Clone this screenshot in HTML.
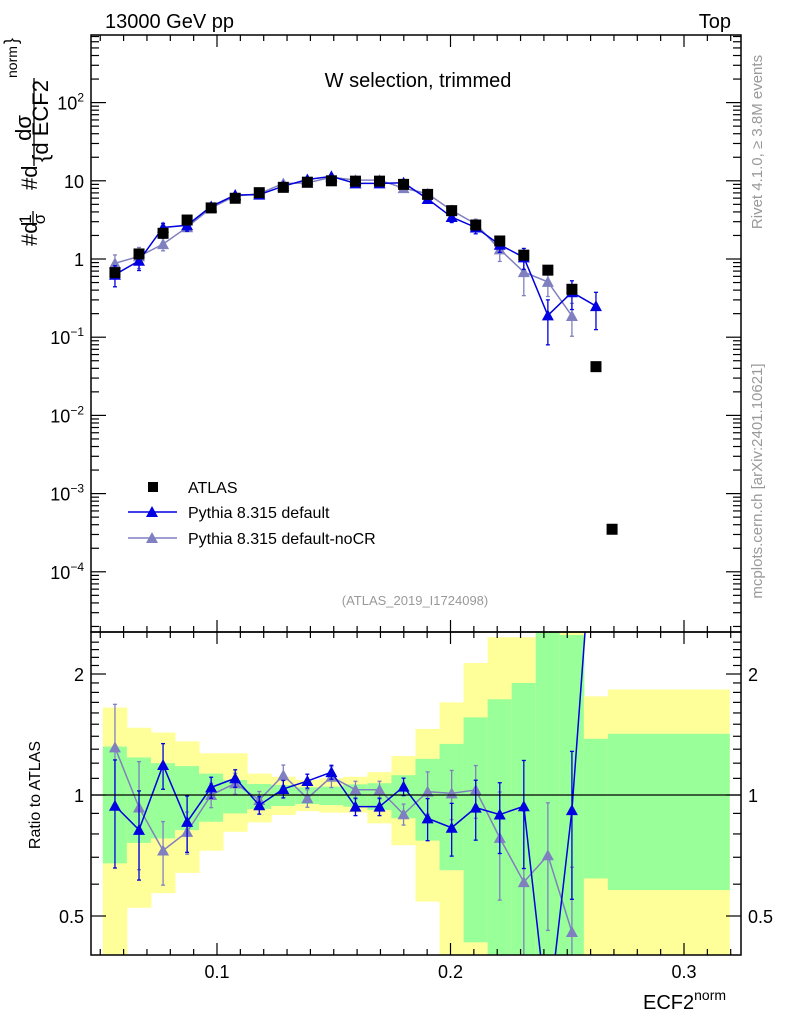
<!DOCTYPE html>
<html><head><meta charset="utf-8"><style>
html,body{margin:0;padding:0;background:#fff;width:786px;height:1024px;overflow:hidden;}
svg{display:block;font-family:"Liberation Sans",sans-serif;}
</style></head><body>
<svg id="chart" width="786" height="1024" viewBox="0 0 786 1024" xmlns="http://www.w3.org/2000/svg">
<defs>
<clipPath id="clipMain"><rect x="91" y="35" width="650" height="597"/></clipPath>
<clipPath id="clipRatio"><rect x="91" y="632" width="650" height="323"/></clipPath>
</defs>
<g id="bands" clip-path="url(#clipRatio)"></g>
<g id="mainMarks" clip-path="url(#clipMain)"></g>
<g id="ratioMarks" clip-path="url(#clipRatio)"></g>
<rect x="91" y="35" width="650" height="597" fill="none" stroke="#000" stroke-width="1.5"/>
<rect x="91" y="632" width="650" height="323" fill="none" stroke="#000" stroke-width="1.5"/>
<line x1="91" y1="795" x2="741" y2="795" stroke="#000" stroke-width="1.2"/>
<g id="ticks"></g>
<text x="105" y="28" font-size="20">13000 GeV pp</text>
<text x="731" y="28" font-size="20" text-anchor="end">Top</text>
<text x="418" y="87" font-size="20" text-anchor="middle">W selection, trimmed</text>
<text x="415" y="605" font-size="13" fill="#999" text-anchor="middle">(ATLAS_2019_I1724098)</text>
<g font-size="22">
<text transform="translate(37,246) rotate(-90)">#d</text>
<text transform="translate(31,219) rotate(-90)" font-size="17" text-anchor="middle">1</text>
<line x1="33" y1="211" x2="33" y2="226" stroke="#000" stroke-width="1.3"/>
<text transform="translate(45,219) rotate(-90)" font-size="17" text-anchor="middle">σ</text>
<text transform="translate(37,190) rotate(-90)">#d</text>
<text transform="translate(31,128) rotate(-90)" font-size="22" text-anchor="middle">dσ</text>
<line x1="34" y1="78" x2="34" y2="166" stroke="#000" stroke-width="1.3"/>
<text transform="translate(48,162) rotate(-90)">{d ECF2</text>
<text transform="translate(17,78) rotate(-90)" font-size="14">norm</text>
<text transform="translate(17,44) rotate(-90)" font-size="18">}</text>
</g>
<text transform="translate(40,795) rotate(-90)" font-size="16" text-anchor="middle">Ratio to ATLAS</text>
<text x="643" y="1009" font-size="20">ECF2<tspan font-size="14" dy="-9">norm</tspan></text>
<text transform="translate(762,142) rotate(-90)" font-size="15" fill="#999" text-anchor="middle">Rivet 4.1.0, ≥ 3.8M events</text>
<text transform="translate(762,481) rotate(-90)" font-size="15" fill="#999" text-anchor="middle">mcplots.cern.ch [arXiv:2401.10621]</text>
<g font-size="16">
<rect x="148" y="482" width="10" height="10" fill="#000"/>
<text x="188" y="493">ATLAS</text>
<line x1="128" y1="512" x2="177" y2="512" stroke="#0000e0" stroke-width="1.5"/>
<polygon points="146,517 158,517 152,506" fill="#0000e0"/>
<text x="188" y="518">Pythia 8.315 default</text>
<line x1="128" y1="538" x2="177" y2="538" stroke="#8080c0" stroke-width="1.5"/>
<polygon points="146,543 158,543 152,532" fill="#8080c0"/>
<text x="188" y="544">Pythia 8.315 default-noCR</text>
</g>
</svg>
<script>
const edges=[0.0511,0.0614,0.0717,0.0820,0.0923,0.1026,0.1129,0.1232,0.1335,0.1438,0.1541,0.1644,0.1747,0.1850,0.1953,0.2056,0.2159,0.2262,0.2365,0.2468,0.2571,0.2674,0.3194];
const atlasX=[0.0563,0.0666,0.0769,0.0872,0.0975,0.1078,0.1181,0.1284,0.1387,0.1490,0.1593,0.1696,0.1799,0.1902,0.2005,0.2108,0.2211,0.2314,0.2417,0.2520,0.2623,0.2692];
const atlasVals=[0.67,1.16,2.13,3.15,4.5,5.98,7.05,8.25,9.6,10.0,9.9,9.9,9.0,6.7,4.15,2.72,1.70,1.12,0.72,0.41,0.042,0.00035];
const pyDefault=[0.63,0.95,2.53,2.70,4.70,6.58,6.65,8.54,10.4,11.4,9.26,9.26,9.44,5.86,3.44,2.53,1.52,1.05,0.19,0.376,0.25];
const pyDefaultErr=[0.3,0.25,0.13,0.16,0.06,0.05,0.05,0.05,0.04,0.04,0.05,0.05,0.05,0.12,0.15,0.17,0.2,0.3,0.58,0.4,0.5];
const pyNoCR=[0.88,1.08,1.55,2.55,4.5,6.39,6.85,9.24,9.42,11.1,10.2,10.2,8.06,6.83,4.19,2.8,1.33,0.68,0.51,0.187];
const pyNoCRErr=[0.28,0.3,0.18,0.12,0.07,0.06,0.05,0.06,0.05,0.06,0.05,0.05,0.06,0.12,0.14,0.15,0.3,0.5,0.35,0.45];
const bandYellowHi=[1.65,1.47,1.43,1.36,1.27,1.27,1.13,1.11,1.09,1.10,1.11,1.14,1.25,1.46,1.70,2.13,2.47,2.47,2.6,2.6,1.76,1.83];
const bandGreenHi=[1.32,1.24,1.20,1.18,1.13,1.09,1.065,1.059,1.045,1.049,1.063,1.07,1.12,1.23,1.34,1.56,1.73,1.90,2.6,2.5,1.38,1.42];
const bandGreenLo=[0.676,0.76,0.78,0.818,0.858,0.90,0.923,0.939,0.95,0.944,0.935,0.918,0.875,0.77,0.65,0.43,0.3,0.3,0.3,0.3,0.62,0.58];
const bandYellowLo=[0.3,0.524,0.57,0.64,0.727,0.81,0.855,0.892,0.912,0.904,0.904,0.85,0.75,0.543,0.3,0.3,0.3,0.3,0.3,0.3,0.3,0.3];
const xTickLabels=["0.1","0.2","0.3"];
const xTickVals=[0.1,0.2,0.3];
const yMainTickVals=[0.0001,0.001,0.01,0.1,1,10,100];
const yMainTickBase=["10","10","10","10","1","10","10"];
const yMainTickExp=["−4","−3","−2","−1","","","2"];
const yRatioTickVals=[0.5,1,2];
const yRatioTickLabels=["0.5","1","2"];

const NS="http://www.w3.org/2000/svg";
const X=v=>217+(v-0.1)*2335;
const YM=v=>Math.min(1020,259-Math.log10(v)*78.2);
const YR=r=>Math.min(1020,795-Math.log2(r)*121);
function mk(tag,attrs,parent){const e=document.createElementNS(NS,tag);for(const k in attrs)e.setAttribute(k,attrs[k]);parent.appendChild(e);return e;}
const bands=document.getElementById('bands'),mm=document.getElementById('mainMarks'),rm=document.getElementById('ratioMarks'),tk=document.getElementById('ticks');

for(let i=0;i<bandYellowHi.length;i++){
  const x0=X(edges[i]),x1=X(edges[i+1]);
  let r=mk('rect',{x:x0,y:YR(bandYellowHi[i]),width:x1-x0+0.5,height:YR(bandYellowLo[i])-YR(bandYellowHi[i]),fill:'#ffff99'},bands);
  
  
  let g=mk('rect',{x:x0,y:YR(bandGreenHi[i]),width:x1-x0+0.5,height:YR(bandGreenLo[i])-YR(bandGreenHi[i]),fill:'#99ff99'},bands);
  
  
}

function tri(x,y,c,p,name){const t=mk('polygon',{points:`${x-6},${y+5} ${x+6},${y+5} ${x},${y-6}`,fill:c},p);}
function series(vals,errs,color,name){
  let pts=vals.map((v,i)=>X(atlasX[i])+','+YM(v)).join(' ');
  const l=mk('polyline',{points:pts,fill:'none',stroke:color,'stroke-width':1.5},mm);
  
  
  vals.forEach((v,i)=>{const x=X(atlasX[i]);const hi=v*(1+errs[i]),lo=Math.max(v*(1-errs[i]),1e-6);
    mk('line',{x1:x,x2:x,y1:YM(hi),y2:YM(lo),stroke:color,'stroke-width':1.3},mm);
    mk('line',{x1:x-2,x2:x+2,y1:YM(hi),y2:YM(hi),stroke:color,'stroke-width':1.3},mm);
    mk('line',{x1:x-2,x2:x+2,y1:YM(lo),y2:YM(lo),stroke:color,'stroke-width':1.3},mm);
    tri(x,YM(v),color,mm,name+'-point');});
  const rat=vals.map((v,i)=>v/atlasVals[i]);
  pts=rat.map((r,i)=>X(atlasX[i])+','+YR(r)).join(' ');
  const rl=mk('polyline',{points:pts,fill:'none',stroke:color,'stroke-width':1.5},rm);
  
  
  rat.forEach((r,i)=>{const x=X(atlasX[i]);const hi=r*(1+errs[i]),lo=Math.max(r*(1-errs[i]),0.01);
    if(YR(r)>1000)return;
    mk('line',{x1:x,x2:x,y1:YR(hi),y2:YR(lo),stroke:color,'stroke-width':1.3},rm);
    mk('line',{x1:x-2,x2:x+2,y1:YR(hi),y2:YR(hi),stroke:color,'stroke-width':1.3},rm);
    mk('line',{x1:x-2,x2:x+2,y1:YR(lo),y2:YR(lo),stroke:color,'stroke-width':1.3},rm);
    tri(x,YR(r),color,rm,name+'-ratio-point');});
}
series(pyNoCR,pyNoCRErr,'#8080c0','pythia-nocr');
series(pyDefault,pyDefaultErr,'#0000e0','pythia-default');
atlasVals.forEach((v,i)=>{const s=mk('rect',{x:X(atlasX[i])-5.5,y:YM(v)-5.5,width:11,height:11,fill:'#000'},mm);
  
  });
function tl(x1,y1,x2,y2){mk('line',{x1,y1,x2,y2,stroke:'#000','stroke-width':1.2},tk);}
for(let k=5;k<=32;k++){const v=k/100,x=X(v);if(x<92||x>740)continue;const major=(k%10===0);const L=major?12:6;
  tl(x,955,x,955-L);tl(x,632,x,632+L);tl(x,632,x,632-L);tl(x,35,x,35+L);}
xTickVals.forEach((v,i)=>{const t=mk('text',{x:X(v),y:978,'font-size':18,'text-anchor':'middle'},tk);t.textContent=xTickLabels[i];
  
  });
for(let d=-5;d<=2;d++){for(let m=1;m<=9;m++){const v=m*Math.pow(10,d),y=YM(v);if(y<36||y>631)continue;const L=m===1?15:8;tl(91,y,91+L,y);tl(741,y,741-L,y);}}
yMainTickVals.forEach((v,i)=>{
  const t=mk('text',{x:84,y:YM(v)+7,'font-size':18,'text-anchor':'end'},tk);
  
  
  const b=mk('tspan',{},t);b.textContent=yMainTickBase[i];
  if(yMainTickExp[i]){const e=mk('tspan',{'font-size':12,dy:-8},t);e.textContent=yMainTickExp[i];}
});
for(let k=4;k<=24;k++){const r=k/10,y=YR(r);if(y<633||y>954)continue;const major=(k===5||k===10||k===20);const L=major?15:8;tl(91,y,91+L,y);tl(741,y,741-L,y);}
yRatioTickVals.forEach((v,i)=>{let t=mk('text',{x:84,y:YR(v)+7,'font-size':18,'text-anchor':'end'},tk);t.textContent=yRatioTickLabels[i];
  
  
  t=mk('text',{x:748,y:YR(v)+7,'font-size':18},tk);t.textContent=yRatioTickLabels[i];
  
  });
</script>
</body></html>
